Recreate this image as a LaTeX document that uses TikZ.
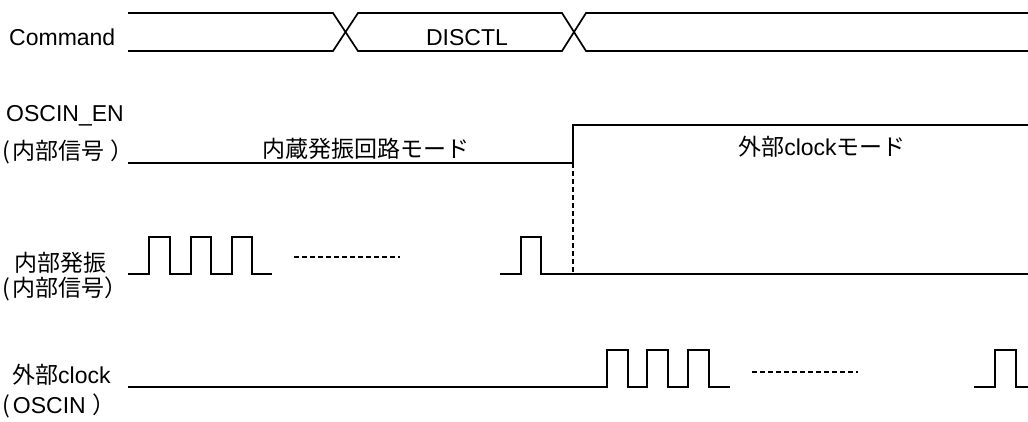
\documentclass[tikz,border=0pt]{standalone}
\usepackage{fontspec}
\setmainfont{Liberation Sans}
\newfontfamily\jp{Noto Sans CJK JP}
\tikzset{
  sig/.style={line width=1.7pt, line join=miter},
  gapline/.style={line width=1.5pt, dash pattern=on 5pt off 3pt},
  lbl/.style={inner sep=0pt, anchor=base west, font=\fontsize{23}{27}\selectfont},
  mode/.style={inner sep=0pt, anchor=base, font=\fontsize{23}{27}\selectfont}
}
\begin{document}
\begin{tikzpicture}[x=1pt,y=-1pt]
    \useasboundingbox[fill=white] (0,0) rectangle (1028,421);
    \node[lbl] (cmd) at (9,45) {Command};
    \node[mode] (disctl) at (467,45) {DISCTL};
    \node[lbl] (oscen) at (6,121) {OSCIN\_EN};
    \node[lbl] (oscenb) at (2,159) {\jp (\kern3pt 内部信号 ）};
    \node[mode] (intmode) at (366,157) {\jp 内蔵発振回路モード};
    \node[mode] (extmode) at (822,155) {{\jp 外部}clock{\jp モード}};
    \node[lbl] (intosc) at (14,271) {\jp 内部発振};
    \node[lbl] (intoscb) at (2,296) {\jp (\kern3pt 内部信号）};
    \node[lbl] (extclk) at (12,383) {{\jp 外部}clock};
    \node[lbl] (extclkb) at (2,413) {{\jp (}\kern3pt OSCIN {\jp ）}};
    \draw[sig] (128,13) -- (333,13) -- (358,51) -- (562,51) -- (586,13) -- (1028,13);
    \draw[sig] (128,51) -- (333,51) -- (358,13) -- (562,13) -- (586,51) -- (1028,51);
    \draw[sig] (128,163) -- (573,163) -- (573,125) -- (1028,125);
    \draw[gapline] (573,163) -- (573,274);
    \draw[sig] (128,274) -- (149,274) -- (149,237) -- (170,237) -- (170,274) -- (191,274) -- (191,237) -- (211,237) -- (211,274) -- (232,274) -- (232,237) -- (252,237) -- (252,274) -- (272,274);
    \draw[gapline] (294,257) -- (400,257);
    \draw[sig] (500,274) -- (521,274) -- (521,237) -- (541,237) -- (541,274) -- (1028,274);
    \draw[sig] (128,387) -- (607,387) -- (607,350) -- (628,350) -- (628,387) -- (647,387) -- (647,350) -- (668,350) -- (668,387) -- (688,387) -- (688,350) -- (709,350) -- (709,387) -- (730,387);
    \draw[gapline] (752,372) -- (858,372);
    \draw[sig] (974,387) -- (995,387) -- (995,350) -- (1016,350) -- (1016,387) -- (1028,387);
\end{tikzpicture}
\end{document}
